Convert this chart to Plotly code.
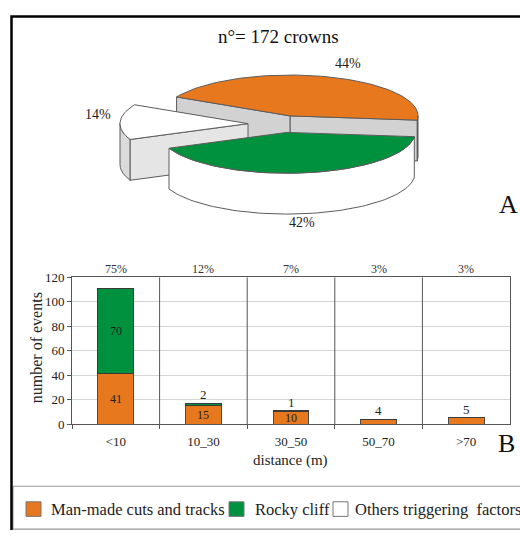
import math
import plotly.graph_objects as go

# ---------------- data ----------------
factors = ["Man-made cuts and tracks", "Rocky cliff", "Others triggering  factors"]
factor_colors = ["#E8781E", "#00913E", "#FFFFFF"]
pie_pct = [44, 42, 14]
n_crowns = 172

distance_classes = ["<10", "10_30", "30_50", "50_70", ">70"]
man_made = [41, 15, 10, 4, 5]
rocky_cliff = [70, 2, 1, 0, 0]
class_pct_labels = ["75%", "12%", "7%", "3%", "3%"]
y_ticks = [0, 20, 40, 60, 80, 100, 120]

# ---------------- page / fonts ----------------
W, H = 520, 538
SERIF = "Liberation Serif, Times New Roman, serif"
INK = "#222222"

fig = go.Figure()

# ---------------- 3-D style pie (panel A) ----------------
# drawn on a pixel-space overlay axis (x2/y2) spanning the whole page
RX, RY, DEPTH = 128, 42, 42
START_DEG = -6
ring_order = [0, 2, 1]                      # counter-clockwise order of slices
apex = {0: (290, 112), 2: (248, 120), 1: (287, 129)}   # exploded slice centres
radial_fill = {0: "#D2D2D2", 2: "#E5E5E5", 1: "#FFFFFF"}
curved_fill = {0: "#333333", 2: "#DADADA", 1: "#FFFFFF"}
EDGE = "#5C5C5C"

total_pct = sum(pie_pct)
spans = {}
a = START_DEG
for i in ring_order:
    sweep = 360.0 * pie_pct[i] / total_pct
    spans[i] = (a, a + sweep)
    a += sweep


def pt(c, deg, dz=0.0):
    t = math.radians(deg)
    return (c[0] + RX * math.cos(t), c[1] - RY * math.sin(t) + dz)


def arc(c, a0, a1, dz=0.0):
    n = max(2, int(abs(a1 - a0) / 2) + 1)
    return [pt(c, a0 + (a1 - a0) * k / (n - 1), dz) for k in range(n)]


def poly(points, fill, line=EDGE):
    xs = [p[0] for p in points] + [points[0][0]]
    ys = [p[1] for p in points] + [points[0][1]]
    return go.Scatter(x=xs, y=ys, xaxis="x2", yaxis="y2", mode="lines",
                      fill="toself", fillcolor=fill,
                      line=dict(color=line, width=1),
                      hoverinfo="skip", showlegend=False)


for i in ring_order:
    c = apex[i]
    a0, a1 = spans[i]
    # flat radial walls that face the viewer
    for edge_deg, visible in ((a0, math.cos(math.radians(a0)) > 0),
                              (a1, math.cos(math.radians(a1)) < 0)):
        if visible:
            e = pt(c, edge_deg)
            fig.add_trace(poly([c, e, (e[0], e[1] + DEPTH), (c[0], c[1] + DEPTH)],
                               radial_fill[i]))
    # curved outer wall on the front half of the ellipse
    for lo, hi in ((-180, 0), (180, 360)):
        s0, s1 = max(a0, lo), min(a1, hi)
        if s1 > s0:
            top = arc(c, s0, s1)
            bot = arc(c, s1, s0, DEPTH)
            fig.add_trace(poly(top + bot, curved_fill[i]))
    # top face
    fig.add_trace(poly([c] + arc(c, a0, a1), factor_colors[i]))

pie_label_pos = {0: (348, 58), 2: (98, 111), 1: (302, 222)}
annotations = []
for i in range(len(pie_pct)):
    x, y = pie_label_pos[i]
    annotations.append(dict(x=x, y=y, xref="x2", yref="y2", text=f"{pie_pct[i]}%",
                            showarrow=False, font=dict(family=SERIF, size=14, color=INK)))

annotations.append(dict(x=278, y=30, xref="x2", yref="y2",
                        text=f"n°= {n_crowns} crowns", showarrow=False,
                        font=dict(family=SERIF, size=19, color="#111111")))
annotations.append(dict(x=508, y=203, xref="x2", yref="y2", text="A", showarrow=False,
                        font=dict(family=SERIF, size=26, color="#111111")))

# ---------------- stacked bars (panel B) ----------------
fig.add_trace(go.Bar(x=distance_classes, y=man_made, name=factors[0],
                     marker=dict(color=factor_colors[0], line=dict(color="#4A4A4A", width=1)),
                     hoverinfo="skip", showlegend=False))
fig.add_trace(go.Bar(x=distance_classes, y=rocky_cliff, name=factors[1],
                     marker=dict(color=factor_colors[1], line=dict(color="#3A3A3A", width=1)),
                     hoverinfo="skip", showlegend=False))

# value labels: large values centred inside, small ones above the stack
for k, cat in enumerate(distance_classes):
    base = 0
    total = man_made[k] + rocky_cliff[k]
    for v in (man_made[k], rocky_cliff[k]):
        if v >= 10:
            annotations.append(dict(x=cat, y=base + v / 2, xref="x", yref="y",
                                    text=str(v), showarrow=False,
                                    font=dict(family=SERIF, size=12, color=INK)))
        elif v > 0:
            annotations.append(dict(x=cat, y=total, xref="x", yref="y", yanchor="bottom",
                                    text=str(v), showarrow=False, yshift=-1,
                                    font=dict(family=SERIF, size=13, color=INK)))
        base += v
    annotations.append(dict(x=cat, y=269, xref="x", yref="y2", text=class_pct_labels[k],
                            showarrow=False, font=dict(family=SERIF, size=12, color="#333333")))

annotations += [
    dict(x=36, y=351, xref="x2", yref="y2", text="number of events", textangle=-90,
         showarrow=False, font=dict(family=SERIF, size=16, color=INK)),
    dict(x=290, y=466, xref="x2", yref="y2", text="distance (m)",
         showarrow=False, font=dict(family=SERIF, size=15, color=INK)),
    dict(x=506, y=449, xref="x2", yref="y2", text="B", showarrow=False,
         font=dict(family=SERIF, size=26, color="#111111")),
]

# ---------------- legend ----------------
shapes = []
legend_items = [(26, 49), (229, 253), (333, 353)]
for i, (sx, tx) in enumerate(legend_items):
    shapes.append(dict(type="rect", xref="x2", yref="y2", x0=sx, x1=sx + 15, y0=509, y1=524,
                       fillcolor=factor_colors[i], line=dict(color="#777777", width=1)))
    annotations.append(dict(x=tx, y=517, xref="x2", yref="y2", xanchor="left",
                            text=factors[i].replace("  ", "&nbsp; "), showarrow=False,
                            font=dict(family=SERIF, size=16.5, color=INK)))
shapes.append(dict(type="rect", xref="x2", yref="y2", x0=13, x1=540, y0=493, y1=537,
                   line=dict(color="#9A9A9A", width=1.2), fillcolor="rgba(0,0,0,0)"))

# category separators in the bar panel
for b in range(1, len(distance_classes)):
    shapes.append(dict(type="line", xref="x", yref="y", x0=b - 0.5, x1=b - 0.5,
                       y0=0, y1=y_ticks[-1], line=dict(color="#555555", width=1)))

# outer frame
shapes.append(dict(type="rect", xref="x2", yref="y2", x0=11.5, x1=560, y0=9.8, y1=560,
                   line=dict(color="#000000", width=2.5), fillcolor="rgba(0,0,0,0)"))

fig.update_layout(
    width=W, height=H,
    margin=dict(l=0, r=0, t=0, b=0),
    paper_bgcolor="white", plot_bgcolor="rgba(0,0,0,0)",
    barmode="stack", bargap=0.59,
    showlegend=False,
    xaxis=dict(domain=[72 / W, 510 / W], anchor="y", type="category",
               showline=True, linecolor="#555555", linewidth=1, mirror=True,
               ticks="outside", ticklen=4, tickcolor="#555555", tickson="boundaries",
               ticklabelstandoff=5,
               showgrid=False, tickfont=dict(family=SERIF, size=13, color=INK)),
    yaxis=dict(domain=[1 - 429 / H, 1 - 278 / H], anchor="x", range=[0, y_ticks[-1]],
               tickvals=y_ticks, showline=True, linecolor="#555555", linewidth=1, mirror=True,
               ticks="outside", ticklen=4, tickcolor="#555555",
               showgrid=True, gridcolor="#D4D4D4", gridwidth=1, zeroline=False,
               tickfont=dict(family=SERIF, size=13, color=INK)),
    xaxis2=dict(domain=[0, 1], anchor="y2", range=[0, W], visible=False, fixedrange=True),
    yaxis2=dict(domain=[0, 1], anchor="x2", range=[H, 0], visible=False, fixedrange=True),
    annotations=annotations,
    shapes=shapes,
)

fig.write_html("out.html")
